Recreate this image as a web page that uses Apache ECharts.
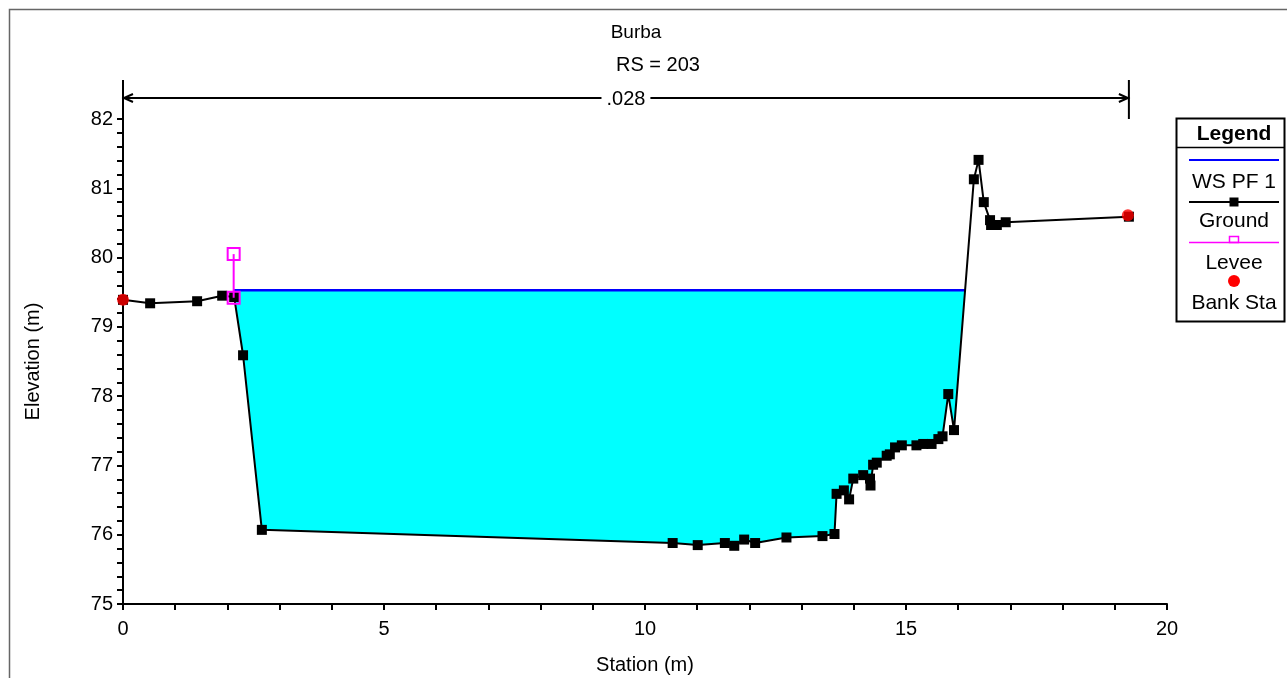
<!DOCTYPE html>
<html>
<head>
<meta charset="utf-8">
<script src="https://cdn.jsdelivr.net/npm/echarts@6/dist/echarts.min.js"></script>
<style>
  html, body { margin: 0; padding: 0; background: #fff; }
  #main { width: 1287px; height: 678px; }
</style>
</head>
<body>
<div id="main"></div>
<script>
// cross section data
var groundSta = [0.00, 0.52, 1.42, 1.90, 2.13, 2.30, 2.66, 10.53, 11.01, 11.53, 11.71, 11.90, 12.11, 12.71, 13.40, 13.63,
  13.67, 13.81, 13.91, 13.99, 14.18, 14.31, 14.32, 14.37, 14.44, 14.63, 14.69, 14.79, 14.92, 15.20, 15.33, 15.49,
  15.62, 15.70, 15.81, 15.92, 16.30, 16.39, 16.49, 16.61, 16.63, 16.74, 16.91, 19.27]
var groundElev = [79.39, 79.34, 79.37, 79.45, 79.43, 78.59, 76.07, 75.88, 75.85, 75.88, 75.84, 75.93, 75.88, 75.96, 75.98, 76.01,
  76.59, 76.64, 76.51, 76.81, 76.86, 76.81, 76.71, 77.01, 77.04, 77.14, 77.16, 77.26, 77.29, 77.29, 77.31, 77.31,
  77.38, 77.42, 78.03, 77.51, 81.13, 81.41, 80.80, 80.54, 80.47, 80.47, 80.51, 80.59]
var wsElev = 79.53
var wsLeft = 2.12
var leveeSta = [2.12, 2.12]
var leveeElev = [79.42, 80.05]
var bankSta = [0, 19.25]
var bankElev = [79.39, 80.61]
var nLabel = '.028'
var nStart = 0
var nEnd = 19.27
var xTicks = [0, 5, 10, 15, 20]
var yTicks = [75, 76, 77, 78, 79, 80, 81, 82]

var FONT = 'Liberation Sans, Arial, sans-serif'

function zip (a, b) {
  var out = []
  for (var i = 0; i < a.length; i++) out.push([a[i], b[i]])
  return out
}

// water polygon: from levee to where the ground climbs above the water surface
var waterPoly = [[wsLeft, wsElev]]
var wsRight = wsLeft
for (var i = 0; i < groundSta.length; i++) {
  if (groundSta[i] <= wsLeft) continue
  if (groundElev[i] >= wsElev) {
    var f = (wsElev - groundElev[i - 1]) / (groundElev[i] - groundElev[i - 1])
    wsRight = groundSta[i - 1] + f * (groundSta[i] - groundSta[i - 1])
    break
  }
  waterPoly.push([groundSta[i], groundElev[i]])
}
waterPoly.push([wsRight, wsElev])

var myChart = echarts.init(document.getElementById('main'))

var tickStyle = { color: '#000', width: 2 }

function legendText (txt, y, bold) {
  return {
    type: 'text',
    x: 1234,
    y: y,
    z: 11,
    style: { text: txt, font: (bold ? 'bold ' : '') + '21px ' + FONT, fill: '#000', align: 'center', verticalAlign: 'middle' }
  }
}

var option = {
  animation: false,
  backgroundColor: '#fff',
  textStyle: { fontFamily: FONT },
  grid: { left: 123, right: 120, top: 119, bottom: 74, containLabel: false, outerBoundsMode: 'none' },
  xAxis: {
    type: 'value',
    min: xTicks[0],
    max: xTicks[xTicks.length - 1],
    interval: 5,
    name: 'Station (m)',
    nameLocation: 'middle',
    nameGap: 51,
    nameTextStyle: { color: '#000', fontSize: 20, fontFamily: FONT },
    axisLine: { lineStyle: tickStyle },
    axisTick: { length: 6, lineStyle: tickStyle },
    minorTick: { show: true, splitNumber: 5, length: 6, lineStyle: tickStyle },
    splitLine: { show: false },
    axisLabel: { color: '#000', fontSize: 20, margin: 15, fontFamily: FONT }
  },
  yAxis: {
    type: 'value',
    min: yTicks[0],
    max: yTicks[yTicks.length - 1],
    interval: 1,
    name: 'Elevation (m)',
    nameLocation: 'middle',
    nameGap: 80,
    nameTextStyle: { color: '#000', fontSize: 20, fontFamily: FONT },
    axisLine: { show: true, lineStyle: tickStyle },
    axisTick: { show: true, length: 6, lineStyle: tickStyle },
    minorTick: { show: true, splitNumber: 5, length: 6, lineStyle: tickStyle },
    splitLine: { show: false },
    axisLabel: { color: '#000', fontSize: 20, margin: 10, fontFamily: FONT }
  },
  graphic: [
    // outer frame
    { type: 'rect', shape: { x: 9.5, y: 9.5, width: 1300, height: 700 }, style: { fill: null, stroke: '#666', lineWidth: 1.5 }, silent: true },
    { type: 'text', x: 636, y: 33, style: { text: 'Burba', font: '19px ' + FONT, fill: '#000', align: 'center', verticalAlign: 'middle' } },
    { type: 'text', x: 658, y: 65, style: { text: 'RS = 203', font: '20px ' + FONT, fill: '#000', align: 'center', verticalAlign: 'middle' } },
    // legend box
    { type: 'rect', shape: { x: 1176.5, y: 118.5, width: 108, height: 203 }, style: { fill: '#fff', stroke: '#000', lineWidth: 2 }, z: 10 },
    { type: 'line', shape: { x1: 1176, y1: 147.5, x2: 1285, y2: 147.5 }, style: { stroke: '#000', lineWidth: 1.5 }, z: 11 },
    legendText('Legend', 134, true),
    { type: 'line', shape: { x1: 1189, y1: 160, x2: 1279, y2: 160 }, style: { stroke: '#0000ff', lineWidth: 2 }, z: 11 },
    legendText('WS PF 1', 182),
    { type: 'line', shape: { x1: 1189, y1: 202, x2: 1279, y2: 202 }, style: { stroke: '#000', lineWidth: 2 }, z: 11 },
    { type: 'rect', shape: { x: 1229.5, y: 197.5, width: 9, height: 9 }, style: { fill: '#000' }, z: 12 },
    legendText('Ground', 221),
    { type: 'line', shape: { x1: 1189, y1: 242.5, x2: 1279, y2: 242.5 }, style: { stroke: '#ff00ff', lineWidth: 1.5 }, z: 11 },
    { type: 'rect', shape: { x: 1229.5, y: 236.5, width: 9, height: 6 }, style: { fill: null, stroke: '#ff00ff', lineWidth: 1.5 }, z: 12 },
    legendText('Levee', 263),
    { type: 'circle', shape: { cx: 1234, cy: 281, r: 6 }, style: { fill: '#ff0000' }, z: 12 },
    legendText('Bank Sta', 303)
  ],
  series: [
    {
      name: 'Water',
      type: 'custom',
      silent: true,
      z: 1,
      data: [[wsLeft, wsElev]],
      renderItem: function (params, api) {
        var pts = waterPoly.map(function (p) { return api.coord(p) })
        return { type: 'polygon', shape: { points: pts }, style: { fill: '#00ffff', stroke: null } }
      }
    },
    {
      name: 'WS PF 1',
      type: 'line',
      z: 2,
      symbol: 'none',
      lineStyle: { color: '#0000ff', width: 2.5 },
      data: [[wsLeft, wsElev], [wsRight, wsElev]]
    },
    {
      name: 'Ground',
      type: 'line',
      z: 3,
      symbol: 'rect',
      symbolSize: 10,
      itemStyle: { color: '#000' },
      lineStyle: { color: '#000', width: 2 },
      data: zip(groundSta, groundElev)
    },
    {
      name: 'Levee',
      type: 'line',
      z: 4,
      symbol: 'rect',
      symbolSize: 12,
      itemStyle: { color: 'rgba(255,255,255,0)', borderColor: '#ff00ff', borderWidth: 2, opacity: 1 },
      lineStyle: { color: '#ff00ff', width: 2 },
      data: zip(leveeSta, leveeElev)
    },
    {
      name: 'Bank Sta',
      type: 'scatter',
      z: 5,
      symbol: 'circle',
      symbolSize: 12,
      itemStyle: { color: '#ff0000' },
      data: zip(bankSta, bankElev)
    },
    {
      // roughness band above the plot: |<---- .028 ---->|
      name: 'n',
      type: 'custom',
      clip: false,
      silent: true,
      z: 6,
      data: [[nStart, nEnd]],
      renderItem: function (params, api) {
        var a = api.coord([api.value(0), yTicks[yTicks.length - 1]])
        var b = api.coord([api.value(1), yTicks[yTicks.length - 1]])
        var top = a[1] - 39
        var ay = a[1] - 21
        var ls = { stroke: '#000', lineWidth: 2, fill: null }
        var mid = (a[0] + b[0]) / 2
        return {
          type: 'group',
          children: [
            { type: 'line', shape: { x1: a[0], y1: top, x2: a[0], y2: a[1] }, style: ls },
            { type: 'line', shape: { x1: b[0], y1: top, x2: b[0], y2: a[1] }, style: ls },
            { type: 'line', shape: { x1: a[0], y1: ay, x2: b[0], y2: ay }, style: ls },
            { type: 'polyline', shape: { points: [[a[0] + 10, ay - 4], [a[0] + 1, ay], [a[0] + 10, ay + 4]] }, style: ls },
            { type: 'polyline', shape: { points: [[b[0] - 10, ay - 4], [b[0] - 1, ay], [b[0] - 10, ay + 4]] }, style: ls },
            {
              type: 'text',
              x: mid,
              y: ay + 1,
              style: {
                text: nLabel,
                font: '20px ' + FONT,
                fill: '#000',
                align: 'center',
                verticalAlign: 'middle',
                backgroundColor: '#fff',
                padding: [0, 5, 0, 5]
              }
            }
          ]
        }
      }
    }
  ]
}
myChart.setOption(option)
</script>
</body>
</html>
